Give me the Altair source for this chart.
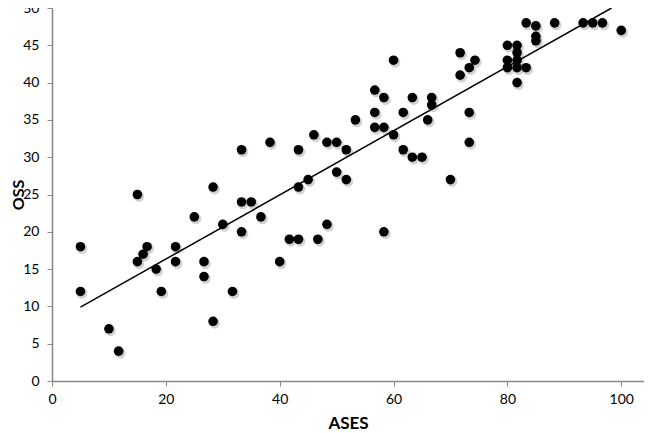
import altair as alt
import pandas as pd

ases = [5, 5, 10, 11.7, 15, 15, 16, 16.7, 18.3, 19.2, 21.7, 21.7, 25, 26.7, 26.7,
        28.3, 28.3, 30, 31.7, 33.3, 33.3, 33.3, 35, 36.7, 38.3, 40, 41.7, 43.3, 43.3,
        43.3, 45, 46, 46.7, 48.3, 48.3, 50, 50, 51.7, 51.7, 53.3, 56.7, 56.7, 56.7,
        58.3, 58.3, 58.3, 60, 60, 61.7, 61.7, 63.3, 63.3, 65, 66, 66.7, 66.7, 70,
        71.7, 71.7, 73.3, 74.3, 73.3, 73.3, 80, 80, 80, 81.7, 81.7, 81.7, 81.7, 81.7,
        83.3, 83.3, 85, 85, 85, 88.3, 93.3, 95, 96.7, 100]
oss = [18, 12, 7, 4, 25, 16, 17, 18, 15, 12, 18, 16, 22, 16, 14,
       26, 8, 21, 12, 31, 24, 20, 24, 22, 32, 16, 19, 31, 26,
       19, 27, 33, 19, 32, 21, 32, 28, 31, 27, 35, 39, 36, 34,
       38, 34, 20, 43, 33, 36, 31, 38, 30, 30, 35, 38, 37, 27,
       44, 41, 42, 43, 36, 32, 45, 43, 42, 45, 44, 43, 42, 40,
       48, 42, 47.6, 46.2, 45.6, 48, 48, 48, 48, 47]
trend_ases = [5, 98.3]
trend_oss = [9.9, 50]

df = pd.DataFrame({"ASES": ases, "OSS": oss})
tf = pd.DataFrame({"ASES": trend_ases, "OSS": trend_oss})

xs = alt.Scale(domain=[0, 104], nice=False, zero=True)
ys = alt.Scale(domain=[0, 50], nice=False)

xaxis = alt.Axis(values=[0, 20, 40, 60, 80, 100], title="ASES", grid=False,
                 labelPadding=6, titlePadding=9, titleFontSize=17)
yaxis = alt.Axis(values=list(range(0, 51, 5)), title="OSS", grid=False,
                 labelPadding=8, titleX=-34, titleBaseline="middle", titleFontSize=16)

enc = dict(
    x=alt.X("ASES:Q", scale=xs, axis=xaxis),
    y=alt.Y("OSS:Q", scale=ys, axis=yaxis),
)

shadow = alt.Chart(df).mark_circle(size=115, color="#000", opacity=0.18,
                                   xOffset=1.5, yOffset=2).encode(**enc)
line = alt.Chart(tf).mark_line(color="#000", strokeWidth=1.5).encode(**enc)
points = alt.Chart(df).mark_circle(size=92, color="#000", opacity=1).encode(**enc)

chart = alt.layer(shadow, line, points).properties(
    width=592, height=373,
    autosize=alt.AutoSizeParams(type="none"),
    padding={"left": 44, "top": 0, "right": 0, "bottom": 52},
).configure_view(stroke=None).configure_axis(
    domainColor="#888", domainWidth=1.5, tickColor="#888", tickSize=5, tickWidth=1,
    labelFont="Lato", labelFontSize=14, labelColor="#000", labelFlush=False,
    labelOverlap=False,
    titleFont="Lato", titleFontWeight="bold", titleColor="#000",
)

chart.save("out.html", embed_options={"renderer": "svg", "actions": False})
